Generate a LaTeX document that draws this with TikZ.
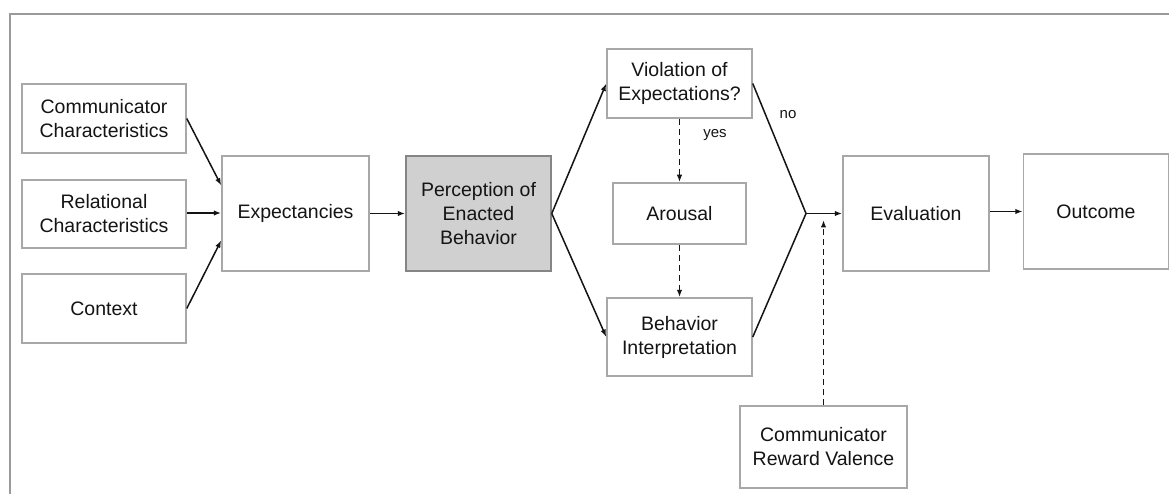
\documentclass[tikz,border=0pt]{standalone}
\usepackage{fontspec}
\setmainfont{Liberation Sans}
\usetikzlibrary{arrows.meta,calc}
\definecolor{boxline}{HTML}{A8A8A8}
\definecolor{frameline}{HTML}{9A9A9A}
\definecolor{shade}{HTML}{D0D0D0}
\definecolor{shadeline}{HTML}{858585}
\definecolor{ink}{HTML}{141414}
\tikzset{
  box/.style={draw=boxline, line width=1.5pt, inner sep=0pt, align=center,
    text=ink, font=\fontsize{19.5}{24}\selectfont},
  flow/.style={draw=ink, line width=1.5pt, -{Latex[length=7.5pt,width=5.5pt]}},
  plain/.style={draw=ink, line width=1.5pt},
  dflow/.style={flow, dash pattern=on 6pt off 4pt},
  tag/.style={text=ink, font=\fontsize{15}{18}\selectfont, inner sep=0pt}
}
\begin{document}
\begin{tikzpicture}[x=1pt, y=-1pt]
\useasboundingbox (0,0) rectangle (1169,494);
\fill[white] (0,0) rectangle (1169,494);
% open frame around the diagram
\draw[frameline, line width=1.5pt] (10,494) -- (10,14) -- (1169,14);

% boxes
\node[box, minimum width=164pt, minimum height=69pt] (cc)  at (104,118.5) {Communicator\\Characteristics};
\node[box, minimum width=164pt, minimum height=68pt] (rc)  at (104,214) {Relational\\Characteristics};
\node[box, minimum width=164pt, minimum height=69pt] (ctx) at (104,308.5) {Context};
\node[box, minimum width=147pt, minimum height=115pt] (exp) at (295.5,213.5) {Expectancies};
\node[box, fill=shade, draw=shadeline, minimum width=145pt, minimum height=115pt] (per) at (478.5,213.5) {Perception of\\Enacted\\Behavior};
\node[box, minimum width=145pt, minimum height=69pt] (vio) at (679.5,83.5) {Violation of\\Expectations?};
\node[box, minimum width=133pt, minimum height=61pt] (aro) at (679.5,213.5) {Arousal};
\node[box, minimum width=145pt, minimum height=78pt] (bi)  at (679.5,337) {Behavior\\Interpretation};
\node[box, minimum width=146pt, minimum height=115pt] (eva) at (916,213.5) {Evaluation};
\node[box, minimum width=145pt, minimum height=115pt] (out) at (1096,211.5) {Outcome};
\node[box, minimum width=167pt, minimum height=82pt] (crv) at (823.5,447) {Communicator\\Reward Valence};

% junction where the two branches meet
\coordinate (m) at (806,213.5);
\coordinate (crvtip) at (823.5,220);

% inputs to expectancies
\draw[flow] (cc.east) -- ($(exp.north west)!0.26!(exp.south west)$);
\draw[flow] ($(rc.east)+(0,-1)$) -- ($(rc.east -| exp.west)+(0,-1)$);
\draw[flow] (ctx.east) -- ($(exp.north west)!0.73!(exp.south west)$);
\draw[flow] (exp.east) -- (per.west);

% branching
\draw[flow] (per.east) -- (vio.west);
\draw[flow] (per.east) -- (bi.west);
\draw[dflow] (vio.south) -- (aro.north);
\draw[dflow] (aro.south) -- (bi.north);
\node[tag] (yes) at (715,135) {yes};
\node[tag] (no) at (788,115) {no};

% merge into evaluation
\draw[plain] (vio.east) -- (m);
\draw[plain] (bi.east) -- (m);
\draw[flow] (m) -- (eva.west);
\draw[dflow] (crv.north) -- (crvtip);
\draw[flow] ($(eva.east)+(0,-2)$) -- ($(out.west)+(0,0)$);
\end{tikzpicture}
\end{document}
